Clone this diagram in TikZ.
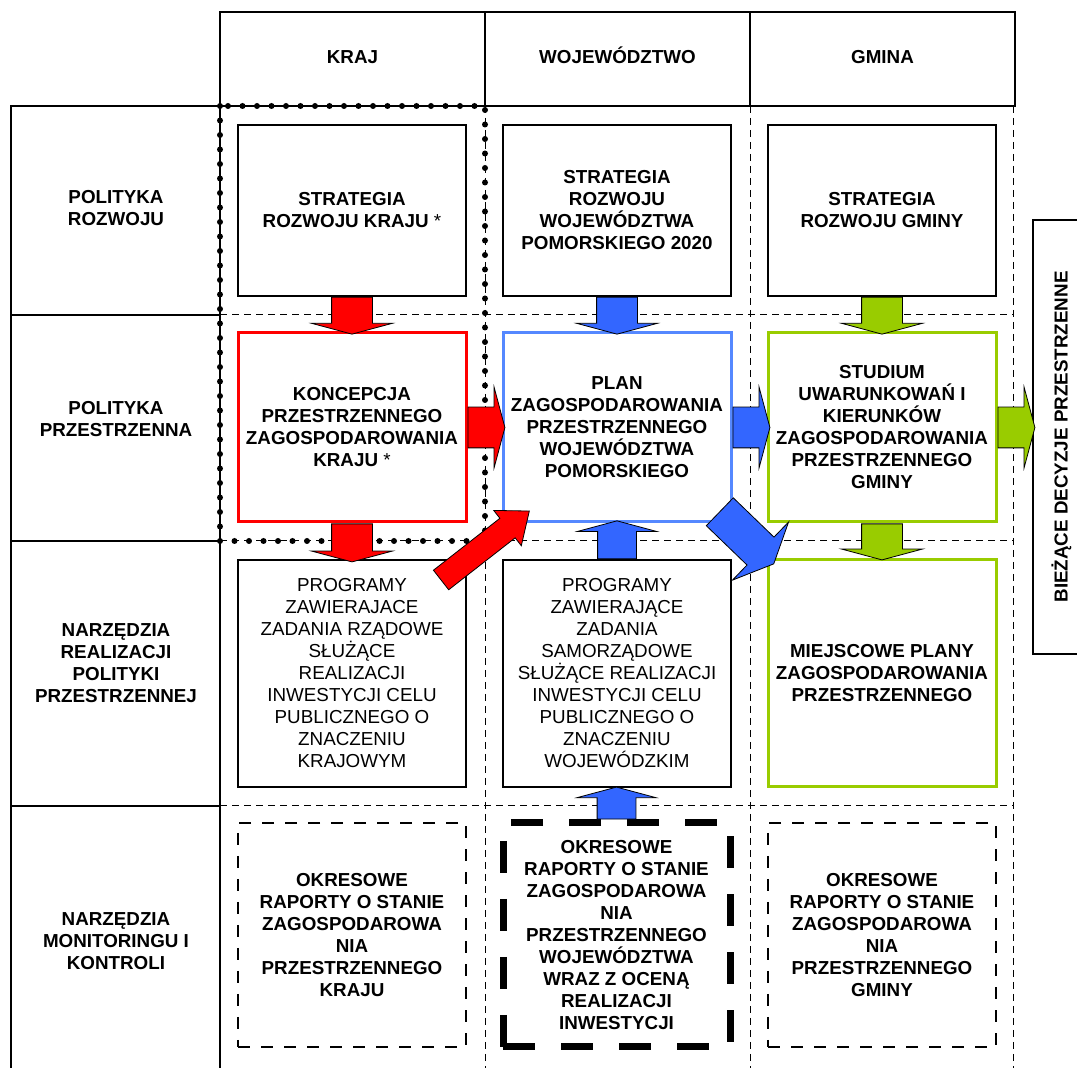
\documentclass[tikz,border=0pt]{standalone}
\usepackage{fontspec}
\setmainfont{Liberation Sans}
\usetikzlibrary{shapes.arrows}

\definecolor{arrred}{RGB}{255,0,0}
\definecolor{arrblue}{RGB}{51,102,255}
\definecolor{boxblue}{RGB}{85,136,255}
\definecolor{arrgreen}{RGB}{153,204,0}

\begin{document}
\begin{tikzpicture}[x=0.5pt,y=-0.5pt,
  font=\fontsize{9.4}{11}\selectfont\bfseries,
  headcell/.style={draw,line width=0.7pt,minimum width=132.5pt,minimum height=47pt,inner sep=0pt,
    text height=7pt,text depth=2pt},
  rowlabel/.style={align=center,inner sep=0pt},
  blackbox/.style={draw,line width=0.75pt,minimum width=114pt,align=center,inner sep=2pt},
  redbox/.style={blackbox,draw=arrred,line width=1.5pt},
  bluebox/.style={blackbox,draw=boxblue,line width=1.5pt},
  greenbox/.style={blackbox,draw=arrgreen,line width=1.5pt},
  thinprog/.style={blackbox,font=\fontsize{9.4}{11}\selectfont},
  raport/.style={blackbox,line width=1.25pt,dash pattern=on 6pt off 5.5pt},
  raportbold/.style={blackbox,line width=3.5pt,dash pattern=on 16pt off 13pt},
  gridline/.style={line width=0.7pt},
  griddash/.style={line width=0.5pt,dash pattern=on 3.5pt off 2.5pt},
  kropki/.style={line width=3pt,line cap=round,dash pattern=on 0pt off 7.25pt},
  blokstrz/.style={single arrow,draw=black,line width=0.4pt,inner xsep=0pt,inner ysep=10pt,
    anchor=tail,minimum height=18.5pt,single arrow head extend=10pt,
    single arrow tip angle=150},
  czerwona/.style={blokstrz,fill=arrred},
  niebieska/.style={blokstrz,fill=arrblue},
  zielona/.style={blokstrz,fill=arrgreen}]

 \useasboundingbox (0,0) rectangle (1077,1068);

 \foreach \y in {315,541,806}
   \draw[griddash] (220,\y) -- (1013,\y);
 \foreach \x in {485,750,1013}
   \draw[griddash] (\x,106) -- (\x,1080);
 \draw[gridline] (11,1080) -- (11,106) -- (220,106);
 \draw[gridline] (220,106) -- (220,1080);
 \foreach \y in {315,541,806}
   \draw[gridline] (11,\y) -- (220,\y);

 \node[headcell] (kraj) at (352.5,59) {KRAJ};
 \node[headcell] (woj) at (617.5,59) {WOJEWÓDZTWO};
 \node[headcell] (gmina) at (882.5,59) {GMINA};

 \draw[kropki] (220,106) rectangle (485,541);

 \node[rowlabel] (l1) at (116,208) {POLITYKA\\ROZWOJU};
 \node[rowlabel] (l2) at (116,419) {POLITYKA\\PRZESTRZENNA};
 \node[rowlabel] (l3) at (116,663) {NARZĘDZIA\\REALIZACJI\\POLITYKI\\PRZESTRZENNEJ};
 \node[rowlabel] (l4) at (116,941) {NARZĘDZIA\\MONITORINGU I\\KONTROLI};

 \node[blackbox,minimum height=85.5pt] (srk) at (352,210.5)
   {STRATEGIA\\ROZWOJU KRAJU {\mdseries *}};
 \node[blackbox,minimum height=85.5pt] (srw) at (617,210.5)
   {STRATEGIA\\ROZWOJU\\WOJEWÓDZTWA\\POMORSKIEGO 2020};
 \node[blackbox,minimum height=85.5pt] (srg) at (882,210.5)
   {STRATEGIA\\ROZWOJU GMINY};

 \node[redbox,minimum height=94.5pt] (kpzk) at (352,427.5)
   {KONCEPCJA\\PRZESTRZENNEGO\\ZAGOSPODAROWANIA\\KRAJU {\mdseries *}};
 \node[bluebox,minimum height=94.5pt] (pzpw) at (617,427.5)
   {PLAN\\ZAGOSPODAROWANIA\\PRZESTRZENNEGO\\WOJEWÓDZTWA\\POMORSKIEGO};
 \node[greenbox,minimum height=94.5pt] (sukz) at (882,427.5)
   {STUDIUM\\UWARUNKOWAŃ I\\KIERUNKÓW\\ZAGOSPODAROWANIA\\PRZESTRZENNEGO\\GMINY};

 \node[thinprog,minimum height=113.5pt] (prk) at (352,673.5)
   {PROGRAMY\\ZAWIERAJACE\\ZADANIA RZĄDOWE\\SŁUŻĄCE\\REALIZACJI\\INWESTYCJI CELU\\PUBLICZNEGO O\\ZNACZENIU\\KRAJOWYM};
 \node[thinprog,minimum height=113.5pt] (prw) at (617,673.5)
   {PROGRAMY\\ZAWIERAJĄCE\\ZADANIA\\SAMORZĄDOWE\\SŁUŻĄCE REALIZACJI\\INWESTYCJI CELU\\PUBLICZNEGO O\\ZNACZENIU\\WOJEWÓDZKIM};
 \node[greenbox,minimum height=113.5pt] (mpzp) at (882,673.5)
   {MIEJSCOWE PLANY\\ZAGOSPODAROWANIA\\PRZESTRZENNEGO};

 \node[raport,minimum height=112pt] (ork) at (352,935)
   {OKRESOWE\\RAPORTY O STANIE\\ZAGOSPODAROWA\\NIA\\PRZESTRZENNEGO\\KRAJU};
 \node[raportbold,minimum width=113.5pt,minimum height=112pt] (orw) at (616.5,935)
   {OKRESOWE\\RAPORTY O STANIE\\ZAGOSPODAROWA\\NIA\\PRZESTRZENNEGO\\WOJEWÓDZTWA\\WRAZ Z OCENĄ\\REALIZACJI\\INWESTYCJI};
 \node[raport,minimum height=112pt] (org) at (882,935)
   {OKRESOWE\\RAPORTY O STANIE\\ZAGOSPODAROWA\\NIA\\PRZESTRZENNEGO\\GMINY};

 \node[draw,line width=0.75pt,rotate=90,minimum width=217pt,minimum height=28.5pt] (bdp) at (1061.5,437)
   {BIEŻĄCE DECYZJE PRZESTRZENNE};

 \node[czerwona,rotate=-90] (s1) at (srk.south) {};
 \node[niebieska,rotate=-90] (s2) at (srw.south) {};
 \node[zielona,rotate=-90] (s3) at (srg.south) {};
 \node[czerwona] (s4) at (kpzk.east) {};
 \node[niebieska] (s5) at (pzpw.east) {};
 \node[zielona] (s6) at (sukz.east) {};
 \node[czerwona,rotate=-90,minimum height=19pt] (s7) at (kpzk.south) {};
 \node[niebieska,rotate=90,minimum height=19pt,inner ysep=9.5pt] (s8) at (prw.north) {};
 \node[zielona,rotate=-90,minimum height=18pt] (s9) at (sukz.south) {};
 \node[niebieska,rotate=90,minimum height=16pt,inner ysep=9.5pt] (s10) at (orw.north) {};
 \node[czerwona,rotate=38,minimum height=56pt,inner ysep=6pt,
   single arrow head extend=5pt,single arrow tip angle=78]
   (s11) at ([shift={(-26,21)}]prk.north east) {};
 \node[niebieska,rotate=-44,minimum height=37.5pt,inner ysep=9.5pt,
   single arrow head extend=10.5pt,single arrow tip angle=131]
   (s12) at ([shift={(-13,-12)}]pzpw.south east) {};
\end{tikzpicture}
\end{document}
